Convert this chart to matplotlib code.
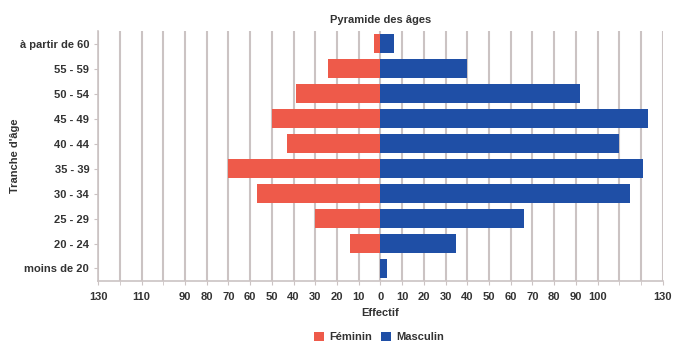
import numpy as np
import matplotlib
matplotlib.use("Agg")
from matplotlib import pyplot as plt

plt.rcParams['font.family'] = ['Liberation Sans', 'DejaVu Sans']

ages = ['moins de 20', '20 - 24', '25 - 29', '30 - 34', '35 - 39',
        '40 - 44', '45 - 49', '50 - 54', '55 - 59', 'à partir de 60']
feminin = [0, 14, 30, 57, 70, 43, 50, 39, 24, 3]
masculin = [3, 35, 66, 115, 121, 110, 123, 92, 40, 6]
xticks = [-130, -110, -90, -80, -70, -60, -50, -40, -30, -20, -10, 0,
          10, 20, 30, 40, 50, 60, 70, 80, 90, 100, 130]

red = '#ee5a4a'
blue = '#1f4fa6'
grid = '#cbc3c3'
txt = '#333333'

fig = plt.figure(figsize=(6.77, 3.49), dpi=100)
ax = fig.add_axes([0.145, 0.195, 0.834, 0.715])

y = np.arange(len(ages))
ax.barh(y, -np.array(feminin), height=0.77, color=red, label='Féminin', zorder=3)
ax.barh(y, masculin, height=0.77, color=blue, label='Masculin', zorder=3)

ax.set_xlim(-130, 130)
ax.set_ylim(-0.5, len(ages) - 0.5)
ax.set_xticks(np.arange(-130, 131, 10), minor=True)
ax.set_xticks(xticks)
ax.set_xticklabels([str(abs(v)) for v in xticks])
ax.set_yticks(y)
ax.set_yticklabels(ages)
ax.grid(axis='x', which='both', color=grid, linewidth=1.5, zorder=0)

for s in ['top', 'right']:
    ax.spines[s].set_visible(False)
for s in ['left', 'bottom']:
    ax.spines[s].set_color(grid)
    ax.spines[s].set_linewidth(1.2)
ax.tick_params(axis='both', which='both', colors=grid, length=3,
               labelcolor=txt, labelsize=8)
ax.tick_params(axis='x', pad=5)
for lab in ax.get_xticklabels() + ax.get_yticklabels():
    lab.set_fontweight('bold')

ax.set_title('Pyramide des âges', fontsize=8, fontweight='bold', color=txt, pad=6)
ax.set_xlabel('Effectif', fontsize=8, fontweight='bold', color=txt, labelpad=4)
ax.set_ylabel("Tranche d'âge", fontsize=8, fontweight='bold', color=txt)
ax.yaxis.set_label_coords(-0.138, 0.5)

leg = fig.legend(loc='lower center', bbox_to_anchor=(0.56, -0.01), ncol=2, frameon=False,
                 handlelength=0.9, handleheight=0.9, handletextpad=0.5, columnspacing=0.8,
                 prop={'size': 8, 'weight': 'bold'})
for t in leg.get_texts():
    t.set_color(txt)

fig.savefig('out.png', dpi=100)
